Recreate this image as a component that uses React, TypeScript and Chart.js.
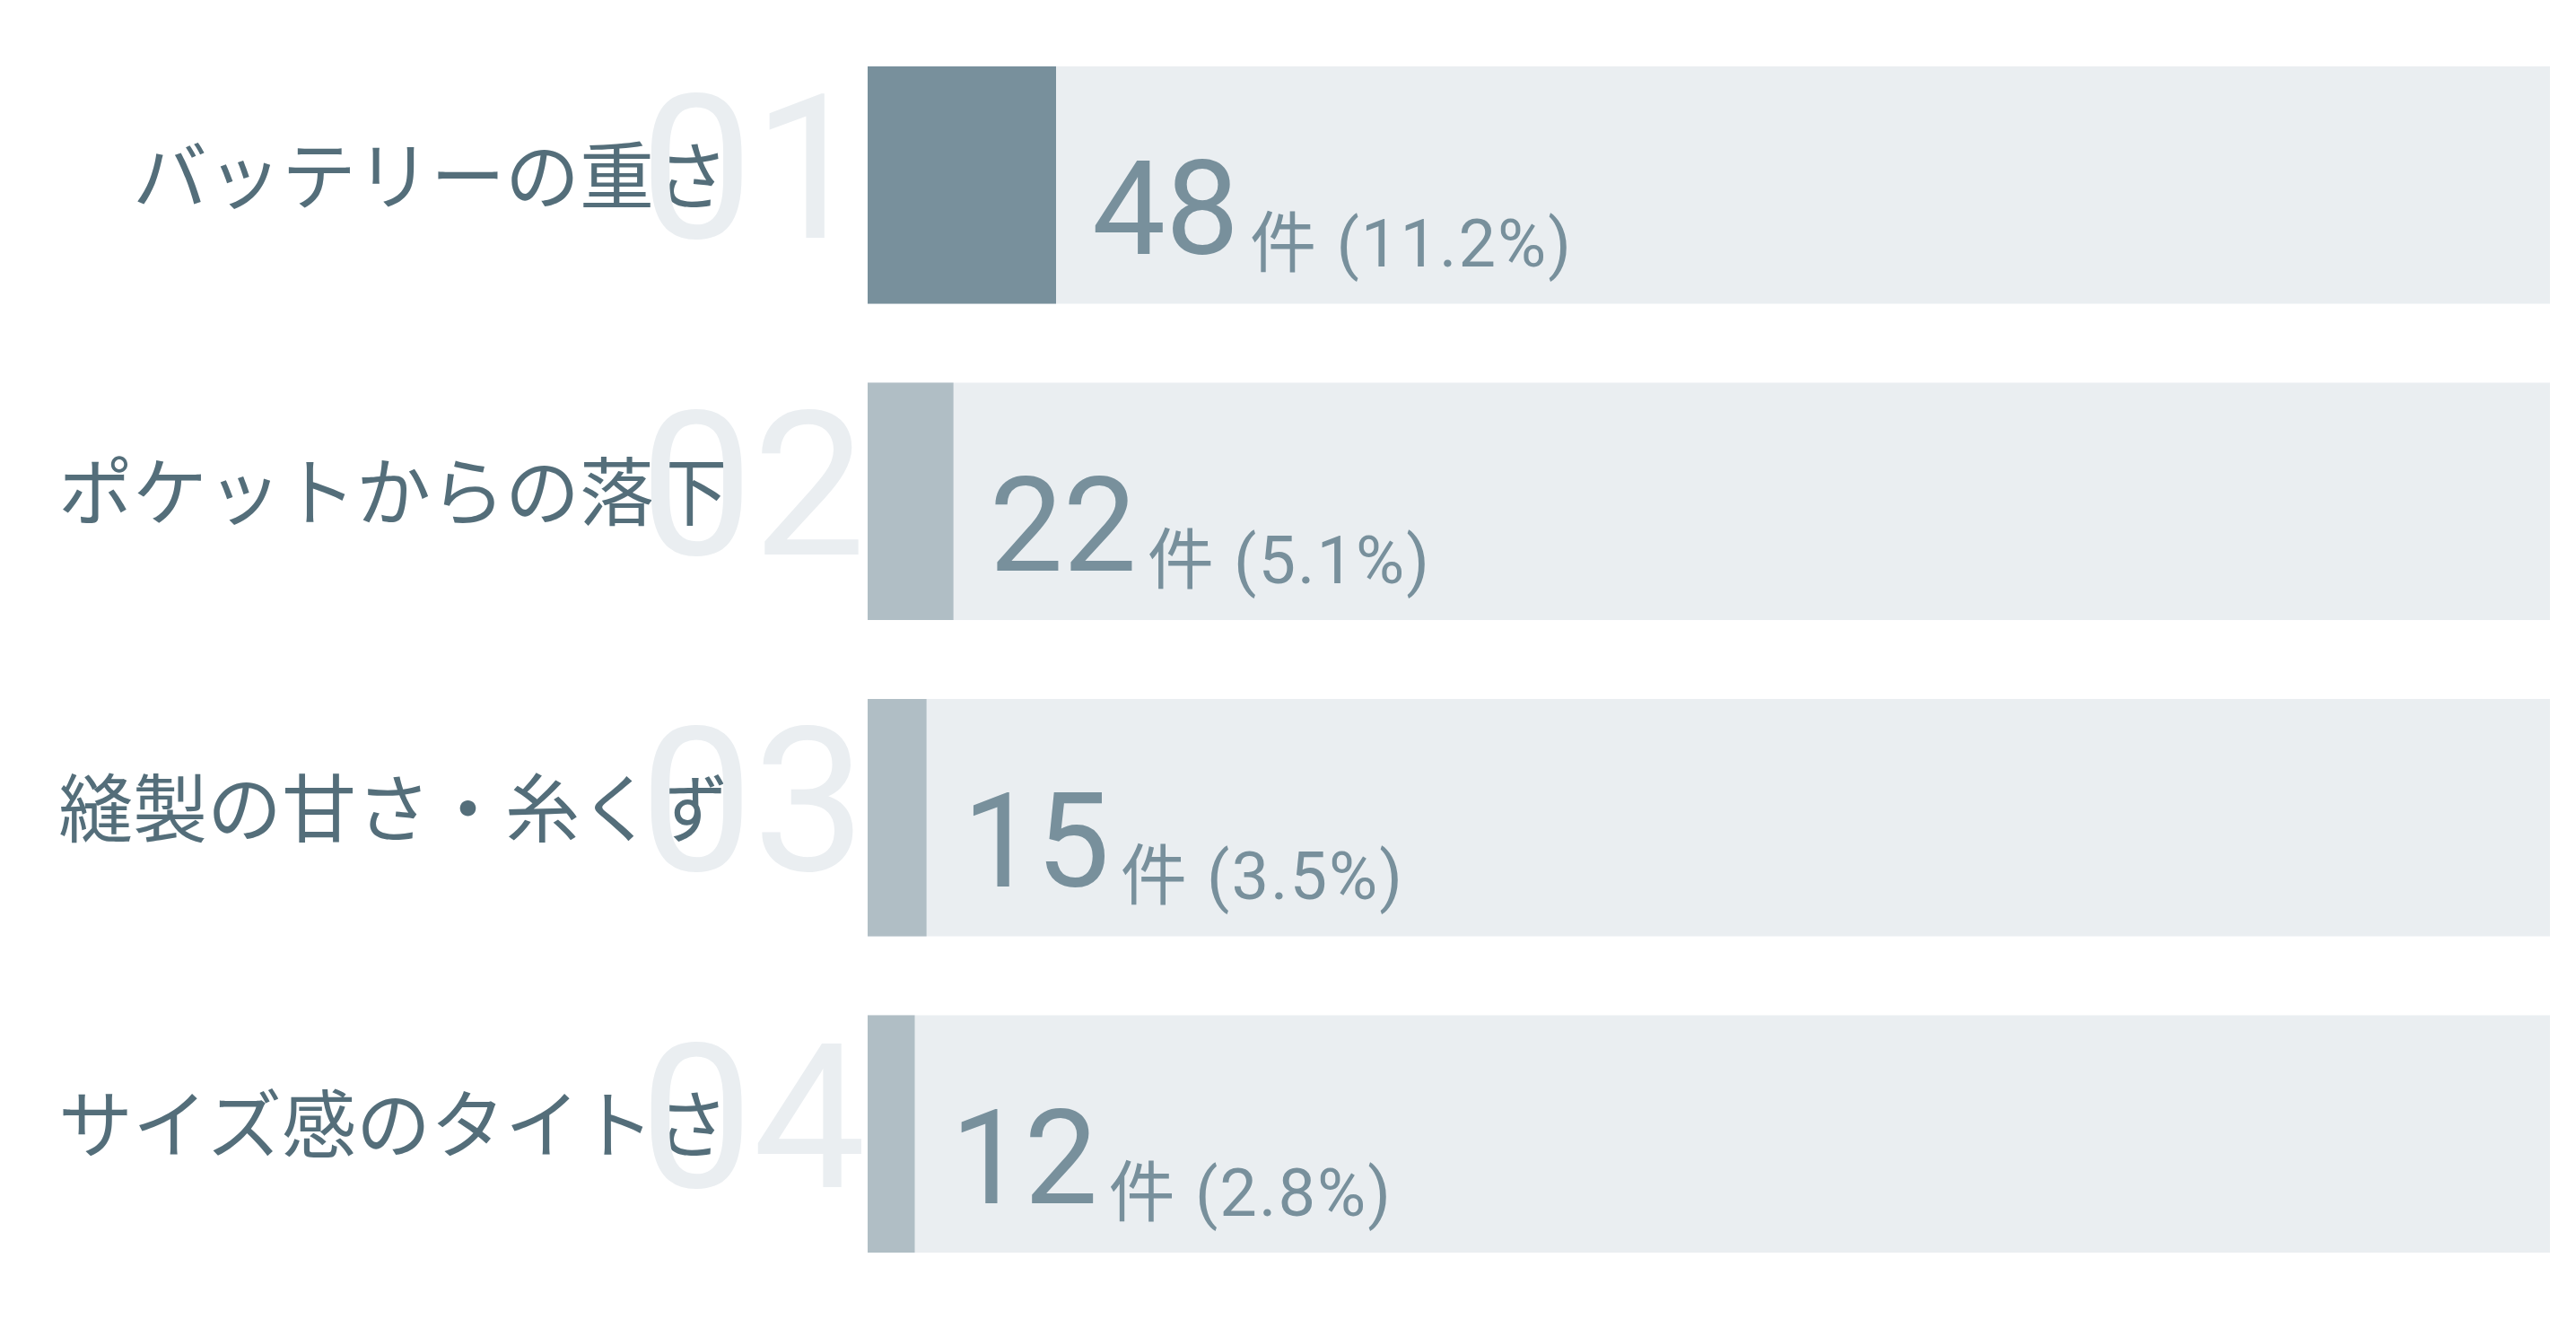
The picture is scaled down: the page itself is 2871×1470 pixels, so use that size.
import React, { useRef, useEffect } from 'react';
import { Chart, registerables } from 'chart.js';

Chart.register(...registerables);

const CATEGORIES = ['バッテリーの重さ', 'ポケットからの落下', '縫製の甘さ・糸くず', 'サイズ感のタイトさ'];
const RANKS = ['01', '02', '03', '04'];
const COUNTS = [48, 22, 15, 12];
const SHARES = [11.2, 5.1, 3.5, 2.8];
const TRACK = [100, 100, 100, 100];

const LABEL_COLOR = '#546e7a';
const VALUE_COLOR = '#78909c';
const TRACK_COLOR = '#eaeef1';
const RANK_COLOR = '#eaeef1';
const FILL_COLORS = ['#78909c', '#b0bec5', '#b0bec5', '#b0bec5'];

const NUM_FONT = "Roboto, 'Noto Sans CJK JP', sans-serif";
const JP_FONT = "'Noto Sans CJK JP', sans-serif";

// big ghost numbers behind the labels
const rankPlugin = {
  id: 'ranks',
  beforeDatasetsDraw(chart: Chart) {
    const { ctx, chartArea, scales } = chart;
    const y = scales.y;
    ctx.save();
    ctx.font = `400 224px ${NUM_FONT}`;
    ctx.fillStyle = RANK_COLOR;
    ctx.textAlign = 'right';
    ctx.textBaseline = 'alphabetic';
    RANKS.forEach((r, i) => {
      ctx.fillText(r, chartArea.left - 2, y.getPixelForValue(i) + 59);
    });
    ctx.restore();
  },
};

// "48件 (11.2%)" after each filled bar
const valuePlugin = {
  id: 'values',
  afterDatasetsDraw(chart: Chart) {
    const { ctx, scales } = chart;
    const x = scales.x;
    const y = scales.y;
    ctx.save();
    ctx.fillStyle = VALUE_COLOR;
    ctx.textAlign = 'left';
    ctx.textBaseline = 'alphabetic';
    COUNTS.forEach((c, i) => {
      const cy = y.getPixelForValue(i);
      const sx = x.getPixelForValue(SHARES[i]) + 40;
      (ctx as any).letterSpacing = '0px';
      ctx.font = `400 146px ${NUM_FONT}`;
      const big = String(c);
      ctx.fillText(big, sx, cy + 77);
      const w = ctx.measureText(big).width;
      (ctx as any).letterSpacing = '2px';
      ctx.font = `400 74px ${NUM_FONT}`;
      ctx.fillText(`件 (${SHARES[i]}%)`, sx + w + 12, cy + 91);
    });
    ctx.restore();
  },
};

const RankingChart: React.FC = () => {
  const canvasRef = useRef<HTMLCanvasElement>(null);

  useEffect(() => {
    if (!canvasRef.current) return;
    const chart = new Chart(canvasRef.current, {
      type: 'bar',
      data: {
        labels: CATEGORIES,
        datasets: [
          {
            label: 'share',
            data: SHARES,
            backgroundColor: FILL_COLORS,
            grouped: false,
            order: 1,
            barPercentage: 0.75,
            categoryPercentage: 1,
          },
          {
            label: 'track',
            data: TRACK,
            backgroundColor: TRACK_COLOR,
            grouped: false,
            order: 2,
            barPercentage: 0.75,
            categoryPercentage: 1,
          },
        ],
      },
      options: {
        indexAxis: 'y',
        responsive: true,
        maintainAspectRatio: false,
        animation: false,
        layout: { padding: { top: 30, bottom: 30, right: 29, left: 0 } },
        plugins: {
          legend: { display: false },
          tooltip: { enabled: false },
        },
        scales: {
          x: { display: false, min: 0, max: 100 },
          y: {
            grid: { display: false, drawTicks: false },
            border: { display: false },
            ticks: {
              color: LABEL_COLOR,
              padding: 155,
              labelOffset: -11,
              font: { family: JP_FONT, size: 83, weight: 400 },
            },
            afterFit: (scale: any) => {
              scale.width = 967;
              // tick padding should only push labels sideways
              scale.paddingTop = 0;
              scale.paddingBottom = 0;
            },
          },
        },
      },
      plugins: [rankPlugin, valuePlugin],
    });

    return () => { chart.destroy(); };
  }, []);

  return (
    <div style={{ position: 'fixed', left: 0, top: 0, width: '100vw', height: '100vh', background: '#fff' }}>
      <canvas ref={canvasRef} />
    </div>
  );
};

export default function App() {
  return <RankingChart />;
}
